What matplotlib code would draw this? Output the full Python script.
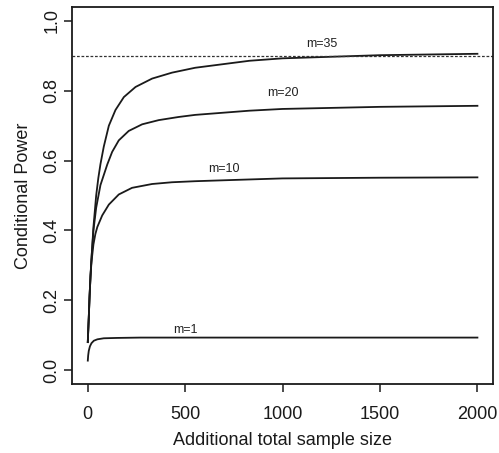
import matplotlib
matplotlib.use("Agg")
import matplotlib.pyplot as plt

plt.rcParams['font.family'] = ['Liberation Sans', 'DejaVu Sans']

# conditional power vs additional total sample size, one curve per m
x_m35 = [1, 3, 6, 10, 15, 20, 30, 44, 55, 66, 83, 109, 143, 186, 246, 331, 433, 552, 830, 1000, 1500, 2000]
y_m35 = [0.08, 0.11, 0.15, 0.21, 0.27, 0.32, 0.41, 0.50, 0.55, 0.59, 0.64, 0.70, 0.745, 0.782,
         0.811, 0.835, 0.852, 0.866, 0.886, 0.893, 0.902, 0.906]

x_m20 = [1, 3, 6, 10, 15, 20, 30, 44, 66, 101, 126, 160, 211, 280, 365, 467, 552, 830, 1000, 1500, 2000]
y_m20 = [0.08, 0.11, 0.15, 0.21, 0.27, 0.32, 0.40, 0.465, 0.53, 0.589, 0.625, 0.658, 0.685, 0.704,
         0.716, 0.725, 0.731, 0.743, 0.748, 0.754, 0.757]

x_m10 = [1, 3, 6, 10, 15, 20, 30, 40, 50, 75, 109, 160, 228, 331, 433, 552, 830, 1000, 1500, 2000]
y_m10 = [0.08, 0.11, 0.15, 0.21, 0.27, 0.31, 0.36, 0.39, 0.41, 0.443, 0.474, 0.503, 0.522, 0.533,
         0.538, 0.541, 0.546, 0.549, 0.551, 0.552]

x_m1 = [1, 3, 6, 12, 20, 32, 50, 83, 150, 271, 500, 1000, 2000]
y_m1 = [0.027, 0.042, 0.055, 0.068, 0.077, 0.084, 0.088, 0.091, 0.092, 0.093, 0.093, 0.093, 0.093]

target_power = 0.9

labels = ['m=35', 'm=20', 'm=10', 'm=1']
label_x = [1200, 1000, 700, 500]
label_y = [0.938, 0.798, 0.579, 0.119]

fig = plt.figure(figsize=(4.99, 4.53), dpi=100)
ax = fig.add_axes([0.1443, 0.1523, 0.8437, 0.8322])

for xs, ys in [(x_m35, y_m35), (x_m20, y_m20), (x_m10, y_m10), (x_m1, y_m1)]:
    ax.plot(xs, ys, color='#1a1a1a', lw=1.3, solid_joinstyle='round')

ax.axhline(target_power, color='#333333', lw=0.9, dashes=(2.2, 1.4))

for txt, tx, ty in zip(labels, label_x, label_y):
    ax.text(tx, ty, txt, fontsize=9, ha='center', va='center_baseline', color='#222222')

ax.set_xlim(-80, 2080)
ax.set_ylim(-0.04, 1.04)
ax.set_xticks([0, 500, 1000, 1500, 2000])
ax.set_yticks([0.0, 0.2, 0.4, 0.6, 0.8, 1.0])
ax.set_yticklabels(['0.0', '0.2', '0.4', '0.6', '0.8', '1.0'], rotation=90, va='center')

ax.tick_params(axis='both', labelsize=13, length=6, width=1.1, color='#1a1a1a', labelcolor='#1a1a1a')
ax.tick_params(axis='x', pad=10)
ax.tick_params(axis='y', pad=2.5)
for sp in ax.spines.values():
    sp.set_linewidth(1.3)
    sp.set_color('#1a1a1a')

ax.set_xlabel('Additional total sample size', fontsize=13, color='#1a1a1a', labelpad=6)
ax.set_ylabel('Conditional Power', fontsize=13, color='#1a1a1a', labelpad=8)

fig.savefig('out.png', dpi=100)
